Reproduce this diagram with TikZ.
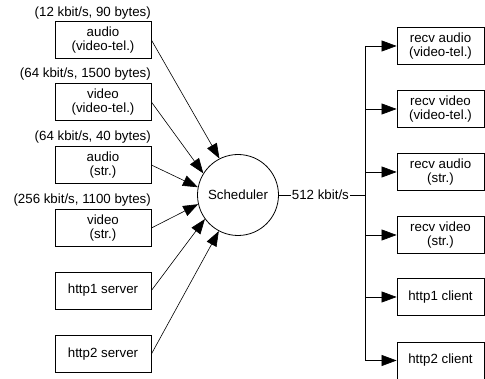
\documentclass[tikz,border=0pt]{standalone}
\usepackage{fontspec}
\setmainfont{Liberation Sans}
\usetikzlibrary{arrows.meta}
\begin{document}
\begin{tikzpicture}[x=1pt,y=-1pt,
  every node/.style={font=\fontsize{13.3}{14}\selectfont},
  src/.style={draw,line width=0.8pt,minimum width=96pt,minimum height=37pt,inner sep=0pt,align=center},
  dst/.style={draw,line width=0.8pt,minimum width=87pt,minimum height=37pt,inner sep=0pt,align=center},
  rate/.style={anchor=base east,inner sep=0pt},
  arr/.style={line width=0.6pt,-{Triangle[length=15pt,width=11pt]}},
  ln/.style={line width=0.6pt}]
\useasboundingbox (0,0) rectangle (485,379);
% sources
\node[src] (b1) at (103,40) {audio\\(video-tel.)};
\node[src] (b2) at (103,102) {video\\(video-tel.)};
\node[src] (b3) at (103,165) {audio\\(str.)};
\node[src] (b4) at (103,228) {video\\(str.)};
\node[src] (b5) at (103,290.5) {http1 server};
\node[src] (b6) at (103,354) {http2 server};
\node[rate] (r1) at (151,16.5) {(12 kbit/s, 90 bytes)};
\node[rate] (r2) at (151,78) {(64 kbit/s, 1500 bytes)};
\node[rate] (r3) at (151,141) {(64 kbit/s, 40 bytes)};
\node[rate] (r4) at (151,204) {(256 kbit/s, 1100 bytes)};
% scheduler
\node[draw,circle,line width=0.8pt,minimum size=81pt,inner sep=0pt] (sch) at (238,195) {Scheduler};
\draw[arr] (b1.east) -- (sch.117);
\draw[arr] (b2.east) -- (sch.148);
\draw[arr] (b3.east) -- (sch.169);
\draw[arr] (b4.east) -- (sch.193);
\draw[arr] (b5.east) -- (sch.216);
\draw[arr] (b6.east) -- (sch.242);
% output
\node[inner sep=1pt] (out) at (320.4,195) {512 kbit/s};
\coordinate (busmid) at (365,195);
\coordinate (bustop) at (365,46);
\coordinate (busbot) at (365,360.5);
\draw[ln] (sch.east) -- (out.west);
\draw[ln] (out.east) -- (busmid);
\draw[ln] (bustop) -- (busbot);
% receivers
\node[dst] (d1) at (440.5,46) {recv audio\\(video-tel.)};
\node[dst] (d2) at (440.5,109) {recv video\\(video-tel.)};
\node[dst] (d3) at (440.5,172) {recv audio\\(str.)};
\node[dst] (d4) at (440.5,235) {recv video\\(str.)};
\node[dst] (d5) at (440.5,297) {http1 client};
\node[dst] (d6) at (440.5,360.5) {http2 client};
\foreach \i in {1,...,6}{
  \draw[arr] (d\i.west -| bustop) -- (d\i.west);
}
\end{tikzpicture}
\end{document}
